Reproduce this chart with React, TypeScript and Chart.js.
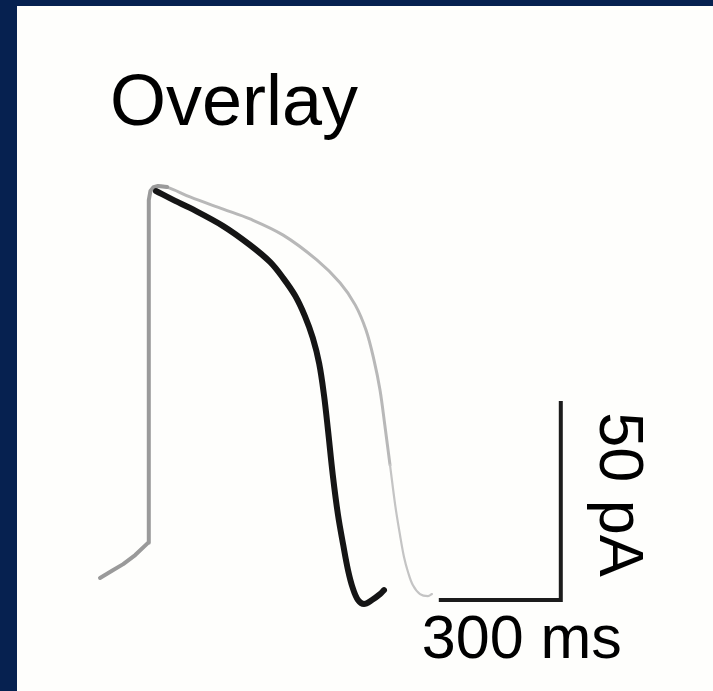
import React, { useEffect, useRef } from "react";
import { Chart, registerables } from "chart.js";

Chart.register(...registerables);

// Time in ms, membrane signal in scale units (scale bar = 300 ms x 50 pA)
const footT = [-120, -90, -62, -32, 0, 2, 6, 14, 25, 48];
const footV = [-84.4, -82.6, -80.9, -78.6, -75.5, 11.5, 13.8, 14.8, 15.1, 14.8];

const grayT = [25, 48, 105, 188, 255, 338, 422, 480, 518, 545, 565, 580, 592, 605, 618, 630, 640, 650, 662, 680, 700, 710];
const grayV = [15.1, 14.8, 12.3, 9.2, 6.7, 2.6, -3.7, -9.5, -15.1, -21.5, -29.1, -36.7, -45.6, -55.7, -65.9, -73.5, -79.1, -82.9, -86.2, -88.5, -89.0, -88.5];

const blackT = [20, 68, 105, 188, 255, 305, 338, 368, 392, 412, 428, 440, 450, 462, 475, 488, 500, 512, 525, 540, 560, 580, 590];
const blackV = [13.8, 11.3, 9.5, 4.9, 0.1, -4.2, -8.3, -12.8, -17.9, -23.5, -30.0, -38.0, -46.9, -58.3, -68.4, -76.0, -82.4, -87.0, -90.0, -91.0, -90.0, -88.5, -87.5];

const scaleBarT = [732, 1032, 1032];
const scaleBarV = [-90, -90, -40];

const titleText = "Overlay";
const timeLabel = "300 ms";
const ampLabel = "50 pA";

const toPts = (xs: number[], ys: number[]) => xs.map((x, i) => ({ x, y: ys[i] }));

const labelsPlugin = {
  id: "labels",
  afterDraw(chart: any) {
    const ctx = chart.ctx;
    const xs = chart.scales.x;
    const ys = chart.scales.y;
    ctx.save();
    ctx.fillStyle = "#000";
    ctx.font = '72px "Liberation Sans", Arial, sans-serif';
    ctx.textAlign = "left";
    ctx.textBaseline = "alphabetic";
    ctx.fillText(titleText, 93, 119);

    const bx0 = xs.getPixelForValue(scaleBarT[0]);
    const bx1 = xs.getPixelForValue(scaleBarT[1]);
    const by0 = ys.getPixelForValue(scaleBarV[0]);
    const by1 = ys.getPixelForValue(scaleBarV[2]);
    ctx.font = '61px "Liberation Sans", Arial, sans-serif';
    ctx.textAlign = "center";
    ctx.fillText(timeLabel, (bx0 + bx1) / 2 + 21, by0 + 58);

    ctx.translate(bx1 + 39, (by0 + by1) / 2 - 7);
    ctx.rotate(Math.PI / 2);
    ctx.font = '63px "Liberation Sans", Arial, sans-serif';
    ctx.textAlign = "center";
    ctx.fillText(ampLabel, 0, 0);
    ctx.restore();
  },
};

export default function App() {
  const ref = useRef<HTMLCanvasElement | null>(null);
  useEffect(() => {
    if (!ref.current) return;
    const chart = new Chart(ref.current, {
      type: "line",
      data: {
        datasets: [
          {
            label: "scale",
            data: toPts(scaleBarT, scaleBarV),
            borderColor: "#1c1c1c",
            borderWidth: 4,
            pointRadius: 0,
            tension: 0,
            borderCapStyle: "square",
            borderJoinStyle: "miter",
            order: 0,
          },
          {
            label: "fast",
            data: toPts(blackT, blackV),
            borderColor: "#151515",
            borderWidth: 6,
            pointRadius: 0,
            tension: 0.35,
            borderCapStyle: "round",
            borderJoinStyle: "round",
            order: 1,
          },
          {
            label: "upstroke",
            data: toPts(footT, footV),
            borderColor: "#9a9a9a",
            borderWidth: 4,
            pointRadius: 0,
            tension: 0,
            borderCapStyle: "round",
            borderJoinStyle: "round",
            order: 2,
          },
          {
            label: "slow",
            data: toPts(grayT, grayV),
            borderColor: "#b8b8b8",
            borderWidth: 3,
            pointRadius: 0,
            tension: 0.35,
            borderCapStyle: "round",
            borderJoinStyle: "round",
            segment: {
              borderWidth: (c: any) => (c.p0.parsed.x >= 600 ? 2.2 : 3),
              borderColor: (c: any) => (c.p0.parsed.x >= 600 ? "#c4c4c4" : "#b8b8b8"),
            },
            order: 3,
          },
        ],
      },
      options: {
        responsive: false,
        animation: false,
        layout: { padding: 0 },
        plugins: { legend: { display: false }, tooltip: { enabled: false }, title: { display: false } },
        scales: {
          x: { type: "linear", display: false, min: -327.5, max: 1412.5 },
          y: { type: "linear", display: false, min: -113.1, max: 60.76 },
        },
      },
      plugins: [labelsPlugin],
    });
    return () => chart.destroy();
  }, []);

  return (
    <div style={{ position: "fixed", left: 0, top: 0, width: 713, height: 691, background: "#062150" }}>
      <div style={{ position: "absolute", left: 17, top: 6, width: 696, height: 685, background: "#fefefc" }}>
        <canvas ref={ref} width={696} height={685} style={{ display: "block" }} />
      </div>
    </div>
  );
}
